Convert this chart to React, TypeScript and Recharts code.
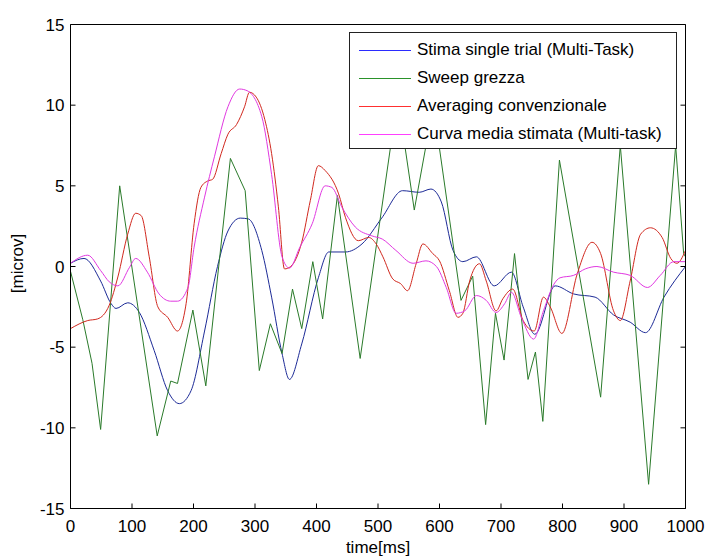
import { LineChart, Line, XAxis, YAxis, Legend } from "recharts";

// ── values: time in ms, amplitude in microvolts ─────────────────────────────
const blueT = [0, 22, 49, 66, 74, 93, 112, 136, 158, 177, 196, 218, 239, 256, 276, 289, 311, 327, 344, 356, 376, 403, 420, 447, 474, 506, 540, 567, 586, 603, 622, 638, 660, 689, 717, 736, 755, 788, 818, 853, 883, 910, 935, 965, 1000];
const blueV = [0.2, 0.5, -0.9, -2.3, -2.6, -2.25, -2.85, -5.2, -7.7, -8.5, -7.7, -4.0, 0, 2.2, 3.0, 2.95, 1.0, -1.9, -5.4, -7.0, -4.8, -0.7, 0.9, 0.9, 1.4, 3.0, 4.7, 4.6, 4.8, 4.0, 1.0, 0.3, 0.6, -1.2, -0.35, -2.5, -4.2, -1.2, -1.7, -1.9, -3.0, -3.45, -4.1, -1.9, 0];

const sweepT = [0, 20, 35, 49, 80, 141, 163, 174, 199, 220, 260, 284, 307, 325, 344, 361, 376, 394, 410, 434, 471, 532, 559, 590, 635, 654, 675, 691, 705, 722, 744, 756, 768, 795, 862, 894, 940, 984, 997, 1000];
const sweepV = [-0.3, -3.3, -6.0, -10.1, 5.0, -10.5, -7.1, -7.25, -2.7, -7.4, 6.7, 4.7, -6.45, -3.55, -5.4, -1.4, -3.85, 0.3, -3.25, 4.4, -5.7, 10.5, 3.5, 10.0, -2.1, -0.6, -9.8, -2.9, -5.8, 0.8, -7.0, -5.3, -9.6, 6.6, -8.1, 7.5, -13.5, 7.5, 0.8, 0.6];

const avgT = [0, 28, 44, 63, 77, 93, 106, 115, 128, 142, 158, 174, 188, 201, 212, 223, 231, 245, 256, 270, 283, 291, 302, 316, 327, 338, 348, 358, 376, 390, 403, 414, 436, 447, 468, 485, 497, 508, 524, 537, 548, 562, 573, 589, 600, 616, 630, 638, 649, 665, 676, 692, 703, 719, 736, 754, 769, 780, 799, 824, 848, 862, 883, 894, 910, 927, 943, 962, 976, 986, 1000];
const avgV = [-3.85, -3.35, -3.25, -2.4, -0.65, 2.0, 3.3, 3.15, 0.6, -2.5, -3.15, -4.0, -2.3, 2.65, 4.9, 5.3, 5.4, 7.0, 8.2, 8.8, 9.9, 10.8, 10.5, 9.1, 7.0, 3.7, -0.15, 0, 1.5, 4.1, 6.25, 5.95, 4.5, 3.05, 1.6, 1.8, 1.4, 0.6, -0.77, -1.07, -1.5, 0.17, 1.4, 0.8, 0.35, -1.5, -3.15, -2.9, -0.9, 0.17, -0.9, -2.75, -2.0, -1.4, -3.35, -4.0, -1.9, -2.5, -4.15, -0.45, 1.5, 0.8, -2.75, -3.35, -0.9, 2.0, 2.4, 1.8, 0.5, 0.2, 1.0];

const meanT = [0, 28, 49, 63, 77, 96, 106, 125, 144, 163, 174, 191, 201, 218, 234, 256, 275, 287, 311, 327, 344, 356, 373, 393, 414, 425, 441, 463, 490, 507, 529, 557, 578, 595, 611, 627, 641, 660, 676, 692, 706, 717, 733, 753, 769, 786, 796, 818, 837, 856, 883, 910, 938, 959, 981, 1000];
const meanV = [0.2, 0.7, -0.25, -0.95, -1.2, -0.05, 0.5, -0.35, -1.7, -2.15, -2.15, -1.3, 1.2, 4.3, 6.8, 9.9, 11.0, 10.9, 9.3, 5.7, 0.6, -0.1, 1.2, 2.65, 5.0, 4.9, 3.7, 2.45, 1.9, 1.7, 1.0, 0.2, 0.35, 0, -1.3, -2.9, -2.75, -1.8, -2.1, -2.85, -2.3, -1.6, -3.15, -4.5, -2.75, -1.1, -0.7, -0.55, -0.15, 0, -0.35, -0.55, -1.3, -0.55, 0.3, 0.3];

const xTicks = [0, 100, 200, 300, 400, 500, 600, 700, 800, 900, 1000];
const yTicks = [-15, -10, -5, 0, 5, 10, 15];

const FONT = '"Liberation Sans", Arial, Helvetica, sans-serif';

const toPoints = (ts: number[], vs: number[]) => ts.map((t, i) => ({ t, v: vs[i] }));

const SERIES = [
  { name: "Stima single trial (Multi-Task)", pts: toPoints(blueT, blueV), stroke: "#1c2a96", key: "#2b2bff", curve: "monotone" },
  { name: "Sweep grezza", pts: toPoints(sweepT, sweepV), stroke: "#2a7a2a", key: "#2a922a", curve: "linear" },
  { name: "Averaging convenzionale", pts: toPoints(avgT, avgV), stroke: "#d0281e", key: "#ff3030", curve: "monotone" },
  { name: "Curva media stimata (Multi-task)", pts: toPoints(meanT, meanV), stroke: "#e038e0", key: "#ff40ff", curve: "monotone" },
] as const;

// ── MATLAB-style ticks: drawn inward, labels outside ────────────────────────
function BottomTick({ x, y, payload }: any) {
  return (
    <g>
      <line x1={x} x2={x} y1={y} y2={y - 5} stroke="#000" />
      <text x={x} y={y + 23} textAnchor="middle" fontSize={17} fontFamily={FONT} fill="#000">
        {payload.value}
      </text>
    </g>
  );
}

function TopTick({ x, y }: any) {
  return <line x1={x} x2={x} y1={y} y2={y + 5} stroke="#000" />;
}

function LeftTick({ x, y, payload }: any) {
  return (
    <g>
      <line x1={x} x2={x + 5} y1={y} y2={y} stroke="#000" />
      <text x={x - 6} y={y + 6} textAnchor="end" fontSize={17} fontFamily={FONT} fill="#000">
        {payload.value}
      </text>
    </g>
  );
}

function RightTick({ x, y }: any) {
  return <line x1={x} x2={x - 5} y1={y} y2={y} stroke="#000" />;
}

function XTitle({ viewBox }: any) {
  const { x, y, width } = viewBox;
  return (
    <text x={x + width / 2} y={y + 44} textAnchor="middle" fontSize={17} fontFamily={FONT} fill="#000">
      time[ms]
    </text>
  );
}

function YTitle({ viewBox }: any) {
  const { x, y, height } = viewBox;
  const cx = x - 8;
  const cy = y + height / 2 - 3;
  return (
    <text x={cx} y={cy} transform={`rotate(-90 ${cx} ${cy})`} textAnchor="middle" fontSize={17} fontFamily={FONT} fill="#000">
      [microv]
    </text>
  );
}

function LegendBox() {
  return (
    <div
      style={{
        boxSizing: "border-box",
        width: 328,
        height: 117,
        background: "#fff",
        border: "1px solid #222",
        paddingTop: 3,
        fontFamily: FONT,
        fontSize: 17,
        color: "#000",
      }}
    >
      {SERIES.map((s) => (
        <div key={s.name} style={{ display: "flex", alignItems: "center", height: 28 }}>
          <span style={{ display: "inline-block", width: 52, height: 1, marginLeft: 9, background: s.key }} />
          <span style={{ marginLeft: 6, whiteSpace: "nowrap" }}>{s.name}</span>
        </div>
      ))}
    </div>
  );
}

export default function App() {
  return (
    <div style={{ position: "absolute", left: 0, top: 0, background: "#fff" }}>
      <LineChart width={706} height={558} margin={{ top: 23.5, right: 19.5, bottom: 19.5, left: 30.5 }}>
        <XAxis
          xAxisId="b"
          type="number"
          dataKey="t"
          domain={[0, 1000]}
          ticks={xTicks}
          allowDataOverflow
          height={30}
          tickSize={0}
          tickMargin={0}
          axisLine={{ stroke: "#000" }}
          tickLine={false}
          tick={<BottomTick />}
          interval={0}
          label={<XTitle />}
        />
        {/* top edge of the box, ticks only */}
        <XAxis
          xAxisId="t"
          orientation="top"
          type="number"
          domain={[0, 1000]}
          ticks={xTicks}
          allowDataOverflow
          height={1}
          tickSize={0}
          tickMargin={0}
          axisLine={{ stroke: "#000" }}
          tickLine={false}
          tick={<TopTick />}
          interval={0}
        />
        <YAxis
          yAxisId="l"
          type="number"
          domain={[-15, 15]}
          ticks={yTicks}
          allowDataOverflow
          width={40}
          tickSize={0}
          tickMargin={0}
          axisLine={{ stroke: "#000" }}
          tickLine={false}
          tick={<LeftTick />}
          interval={0}
          label={<YTitle />}
        />
        {/* right edge of the box, ticks only */}
        <YAxis
          yAxisId="r"
          orientation="right"
          type="number"
          domain={[-15, 15]}
          ticks={yTicks}
          allowDataOverflow
          width={1}
          tickSize={0}
          tickMargin={0}
          axisLine={{ stroke: "#000" }}
          tickLine={false}
          tick={<RightTick />}
          interval={0}
        />
        {SERIES.map((s) => (
          <Line
            key={s.name}
            xAxisId="b"
            yAxisId="l"
            data={s.pts as any}
            dataKey="v"
            name={s.name}
            type={s.curve}
            stroke={s.stroke}
            strokeWidth={1}
            dot={false}
            activeDot={false}
            isAnimationActive={false}
          />
        ))}
        <Legend
          layout="horizontal"
          align="center"
          verticalAlign="middle"
          wrapperStyle={{ left: 349, top: 32, width: 328, height: 117 }}
          content={() => <LegendBox />}
        />
      </LineChart>
    </div>
  );
}
